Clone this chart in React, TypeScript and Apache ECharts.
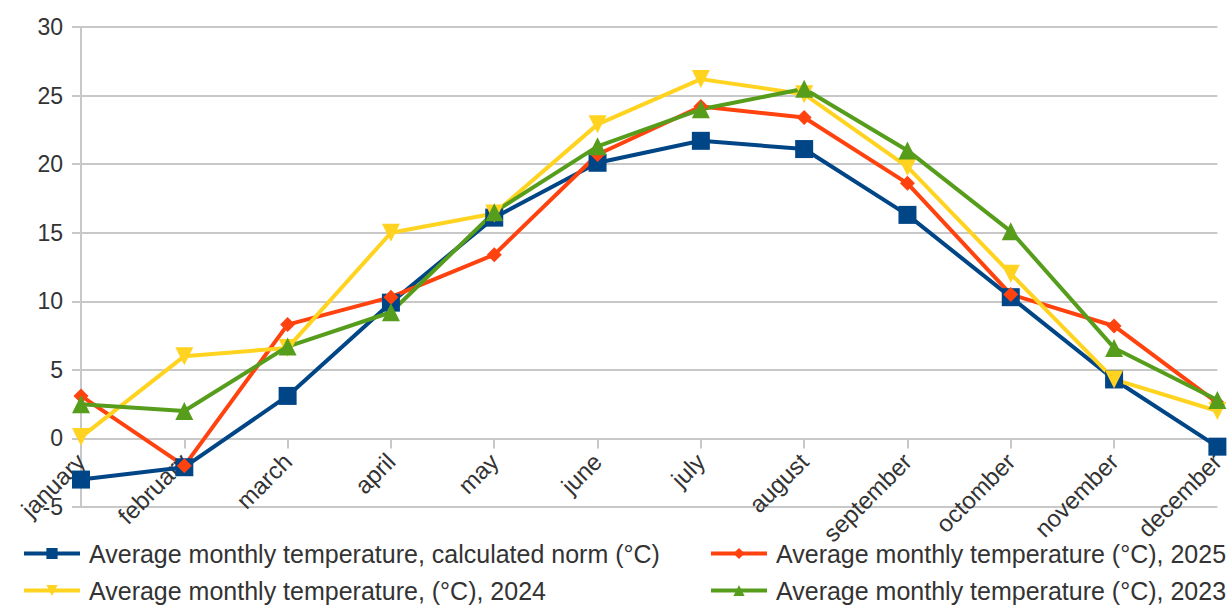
import React, { useEffect, useRef } from "react";
import * as echarts from "echarts";

const months = ["january", "february", "march", "april", "may", "june", "july", "august", "september", "octomber", "november", "december"];
const normValues = [-3.0, -2.1, 3.1, 9.9, 16.1, 20.1, 21.7, 21.1, 16.3, 10.3, 4.3, -0.6];
const values2025 = [3.1, -2.0, 8.3, 10.3, 13.4, 20.7, 24.2, 23.4, 18.6, 10.5, 8.2, 2.6];
const values2024 = [0.1, 6.0, 6.6, 15.0, 16.4, 22.9, 26.2, 25.1, 19.8, 12.0, 4.3, 2.0];
const values2023 = [2.5, 2.0, 6.7, 9.2, 16.5, 21.3, 24.0, 25.5, 21.0, 15.1, 6.6, 2.8];
const yTicks = { min: -5, max: 30, interval: 5 };

const nameNorm = "Average monthly temperature, calculated norm (°C)";
const name2025 = "Average monthly temperature (°C), 2025";
const name2024 = "Average monthly temperature, (°C), 2024";
const name2023 = "Average monthly temperature (°C), 2023";

const FONT = "'Liberation Sans', Arial, sans-serif";
const TEXT = "#333333";
const GRID = "#c8c8c8";

export default function App() {
  const ref = useRef<HTMLDivElement>(null);
  useEffect(() => {
    if (!ref.current) return;
    const chart = echarts.init(ref.current, undefined, { renderer: "svg" });
    const mk = (name: string, data: number[], color: string, symbol: string, size: number) => ({
      name,
      type: "line",
      data,
      symbol,
      symbolSize: size,
      showAllSymbol: true,
      lineStyle: { color, width: 4 },
      itemStyle: { color },
      z: 3,
    });
    const legendCommon = {
      orient: "vertical",
      padding: 0,
      itemWidth: 56,
      itemHeight: 14,
      itemGap: 12,
      lineStyle: { width: 4 },
      textStyle: { fontFamily: FONT, fontSize: 25, lineHeight: 25, color: TEXT, padding: [0, 0, 0, 4] },
    };
    const gridTop = 27;
    const gridBottom = 98;
    const plotH = 605 - gridTop - gridBottom;
    const zeroOffset = -plotH * (0 - yTicks.min) / (yTicks.max - yTicks.min);
    chart.setOption({
      animation: false,
      backgroundColor: "#ffffff",
      grid: { left: 81, right: 0, top: gridTop, bottom: gridBottom, containLabel: false },
      legend: [
        { ...legendCommon, left: 22, top: 541, height: 64, data: [nameNorm, name2024] },
        { ...legendCommon, left: 709, top: 541, height: 64, data: [name2025, name2023] },
      ],
      xAxis: {
        type: "category",
        data: months,
        boundaryGap: false,
        position: "bottom",
        offset: zeroOffset,
        axisLine: { onZero: false, lineStyle: { color: GRID, width: 2 } },
        axisTick: { show: true, length: 10, interval: 0, lineStyle: { color: GRID, width: 2 } },
        axisLabel: { interval: 0, rotate: 45, margin: 19, fontFamily: FONT, fontSize: 24, color: TEXT },
        splitLine: { show: false },
      },
      yAxis: {
        type: "value",
        min: yTicks.min,
        max: yTicks.max,
        interval: yTicks.interval,
        axisLine: { show: true, onZero: false, lineStyle: { color: GRID, width: 2 } },
        axisTick: { show: true, length: 9, lineStyle: { color: GRID, width: 2 } },
        axisLabel: { margin: 18, fontFamily: FONT, fontSize: 23, color: TEXT },
        splitLine: { show: true, lineStyle: { color: GRID, width: 2 } },
      },
      series: [
        mk(nameNorm, normValues, "#004586", "rect", 18),
        mk(name2025, values2025, "#ff420e", "diamond", 15),
        mk(name2024, values2024, "#ffd320", "path://M0,0 L10,0 L5,9 Z", 18),
        mk(name2023, values2023, "#579d1c", "triangle", 18),
      ],
    });
    return () => chart.dispose();
  }, []);
  return <div ref={ref} style={{ position: "fixed", left: 0, top: 0, width: 1228, height: 605 }} />;
}
